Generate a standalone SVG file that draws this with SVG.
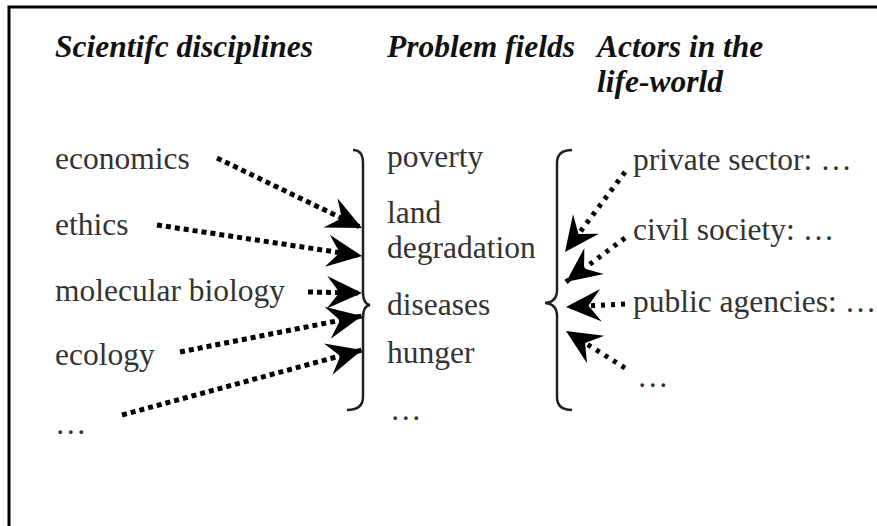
<svg xmlns="http://www.w3.org/2000/svg" width="877" height="526" viewBox="0 0 877 526">
<style>
.hd{font-family:"Liberation Serif","Times New Roman",serif;font-weight:bold;font-style:italic;font-size:31.5px;fill:#111}
.tx{font-family:"Liberation Serif","Times New Roman",serif;font-size:31.5px;fill:#333}
.brace{fill:none;stroke:#222;stroke-width:2.5}
.dl{fill:none;stroke:#000;stroke-width:5;stroke-dasharray:5 4}
.dr{fill:none;stroke:#000;stroke-width:5;stroke-dasharray:4 6}
</style>
<defs>
<marker id="ah" markerUnits="userSpaceOnUse" markerWidth="40" markerHeight="40" viewBox="-30 -15 32 30" refX="0" refY="0" orient="auto">
<path d="M0,0 L-28,-13 L-18,0 L-28,13 Z" fill="#000"/>
</marker>
</defs>
<rect width="877" height="526" fill="#fff"/>
<path d="M9,526 L9,7 L877,7" fill="none" stroke="#000" stroke-width="3"/>
<g id="headers">
<text class="hd" x="55" y="57">Scientifc disciplines</text>
<text class="hd" x="387" y="57">Problem fields</text>
<text class="hd" x="597" y="57">Actors in the</text>
<text class="hd" x="597" y="92">life-world</text>
</g>
<g id="disciplines">
<text class="tx" x="55" y="169">economics</text>
<text class="tx" x="55" y="235">ethics</text>
<text class="tx" x="55" y="301">molecular biology</text>
<text class="tx" x="55" y="365">ecology</text>
<text class="tx" x="55" y="434">…</text>
</g>
<g id="problems">
<text class="tx" x="387" y="167">poverty</text>
<text class="tx" x="387" y="223">land</text>
<text class="tx" x="387" y="258">degradation</text>
<text class="tx" x="387" y="315">diseases</text>
<text class="tx" x="387" y="363">hunger</text>
<text class="tx" x="390" y="420">…</text>
</g>
<g id="actors">
<text class="tx" x="633" y="170">private sector: …</text>
<text class="tx" x="633" y="240">civil society: …</text>
<text class="tx" x="633" y="312">public agencies: …</text>
<text class="tx" x="637" y="387">…</text>
</g>
<g id="braces">
<path class="brace" d="M353,150 Q363,150 363,163 L363,292 Q363,304 370,305 Q363,306 363,318 L363,397 Q363,410 347,410"/>
<path class="brace" d="M572,150 Q557,150 557,163 L557,290 Q557,302 545,303 Q557,304 557,316 L557,397 Q557,410 572,410"/>
</g>
<g id="connectors">
<path class="dl" d="M217,158 L362,228" marker-end="url(#ah)"/>
<path class="dl" d="M157,225 L362,256" marker-end="url(#ah)"/>
<path class="dl" d="M308,292 L362,293" marker-end="url(#ah)"/>
<path class="dl" d="M180,352 L362,316" marker-end="url(#ah)"/>
<path class="dl" d="M122,415 L362,350" marker-end="url(#ah)"/>
<path class="dr" d="M625,172 L565,252" marker-end="url(#ah)"/>
<path class="dr" d="M625,238 L566,282" marker-end="url(#ah)"/>
<path class="dr" d="M625,304 L566,307" marker-end="url(#ah)"/>
<path class="dr" d="M625,368 L566,331" marker-end="url(#ah)"/>
</g>
</svg>
